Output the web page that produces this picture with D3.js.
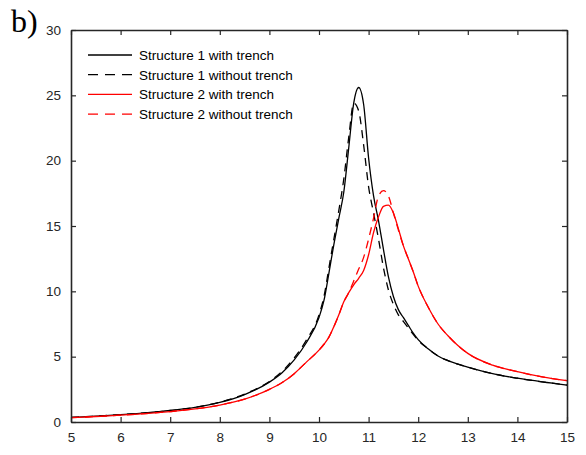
<!DOCTYPE html>
<html>
<head>
<meta charset="utf-8">
<script src="https://cdn.jsdelivr.net/npm/d3@7"></script>
<style>
  body { margin: 0; background: #fff; }
  svg text { font-family: "Liberation Sans", Arial, sans-serif; }
</style>
</head>
<body>
<svg id="chart" width="586" height="455"></svg>
<script>
// frequency grid shared by all four curves
const freq = [5, 5.5, 6, 6.5, 7, 7.5, 8, 8.5, 9, 9.25, 9.5, 9.75, 10, 10.1, 10.2, 10.3, 10.4, 10.5, 10.6, 10.7, 10.8, 10.9, 11, 11.1, 11.2, 11.3, 11.4, 11.5, 11.6, 11.7, 11.8, 11.9, 12, 12.2, 12.4, 12.6, 12.8, 13, 13.5, 14, 14.5, 15];

const s1Trench   = [0.35, 0.45, 0.56, 0.70, 0.88, 1.12, 1.50, 2.10, 3.05, 3.75, 4.75, 6.1, 8.0, 9.3, 11.4, 13.6, 15.6, 17.6, 21.0, 24.4, 25.6, 24.3, 20.2, 17.3, 15.4, 13.2, 11.1, 9.6, 8.6, 8.0, 7.4, 6.8, 6.3, 5.6, 5.05, 4.7, 4.43, 4.2, 3.7, 3.35, 3.07, 2.83];
const s1NoTrench = [0.35, 0.45, 0.56, 0.70, 0.88, 1.12, 1.52, 2.14, 3.1, 3.85, 4.9, 6.3, 8.2, 9.6, 11.8, 14.0, 16.2, 18.6, 21.8, 24.4, 23.8, 21.2, 18.0, 16.0, 14.0, 11.8, 10.1, 9.0, 8.2, 7.7, 7.2, 6.7, 6.25, 5.6, 5.05, 4.7, 4.43, 4.2, 3.7, 3.35, 3.07, 2.83];
const s2Trench   = [0.33, 0.42, 0.52, 0.64, 0.80, 1.0, 1.3, 1.75, 2.5, 3.0, 3.7, 4.6, 5.5, 5.95, 6.5, 7.3, 8.2, 9.2, 9.9, 10.5, 11.0, 11.6, 12.8, 14.5, 15.7, 16.5, 16.6, 16.0, 14.8, 13.5, 12.5, 11.5, 10.4, 8.8, 7.5, 6.6, 5.85, 5.25, 4.35, 3.85, 3.45, 3.16];
const s2NoTrench = [0.33, 0.42, 0.52, 0.64, 0.80, 1.0, 1.3, 1.75, 2.5, 3.0, 3.7, 4.6, 5.5, 5.95, 6.5, 7.3, 8.2, 9.2, 9.9, 10.8, 11.7, 12.6, 14.0, 15.6, 17.3, 17.7, 17.3, 16.0, 14.7, 13.5, 12.5, 11.5, 10.4, 8.8, 7.5, 6.6, 5.85, 5.25, 4.35, 3.85, 3.45, 3.16];

const seriesNames = ["Structure 1 with trench", "Structure 1 without trench", "Structure 2 with trench", "Structure 2 without trench"];
const seriesColors = ["#000000", "#000000", "#ff0000", "#ff0000"];
const seriesDashed = [false, true, false, true];
const seriesValues = [s1Trench, s1NoTrench, s2Trench, s2NoTrench];

const xTicks = [5, 6, 7, 8, 9, 10, 11, 12, 13, 14, 15];
const yTicks = [0, 5, 10, 15, 20, 25, 30];

const svg = d3.select("#chart");
const plot = {left: 71, right: 567, top: 30, bottom: 422};
const axisColor = "#262626";

const x = d3.scaleLinear().domain([5, 15]).range([plot.left, plot.right]);
const y = d3.scaleLinear().domain([0, 30]).range([plot.bottom, plot.top]);

// panel label
svg.append("text")
  .attr("x", 11).attr("y", 32)
  .style("font-family", "'Liberation Serif', 'Times New Roman', serif")
  .style("font-size", "32px")
  .attr("fill", "#000")
  .text("b)");

// curves, drawn first so the axes sit on top
const line = d3.line()
  .x((d, i) => x(freq[i]))
  .y(d => y(d))
  .curve(d3.curveMonotoneX);

seriesValues.forEach((vals, k) => {
  svg.append("path")
    .attr("d", line(vals))
    .attr("fill", "none")
    .attr("stroke", seriesColors[k])
    .attr("stroke-width", 1.3)
    .attr("stroke-dasharray", seriesDashed[k] ? "8,6" : null);
});

// axes: ticks point inward like the MATLAB box
function styleAxis(g) {
  g.selectAll("path.domain").attr("stroke", axisColor).attr("stroke-width", 1.6);
  g.selectAll(".tick line").attr("stroke", axisColor).attr("stroke-width", 1.2);
  g.selectAll(".tick text").attr("fill", axisColor).style("font-size", "13.5px")
    .style("font-family", "'Liberation Sans', Arial, sans-serif");
}

svg.append("g")
  .attr("transform", `translate(0,${plot.bottom})`)
  .call(d3.axisBottom(x).tickValues(xTicks).tickSizeInner(-5).tickSizeOuter(0).tickPadding(10))
  .call(styleAxis);

svg.append("g")
  .attr("transform", `translate(0,${plot.top})`)
  .call(d3.axisTop(x).tickValues(xTicks).tickSizeInner(-5).tickSizeOuter(0).tickFormat(""))
  .call(styleAxis);

svg.append("g")
  .attr("transform", `translate(${plot.left},0)`)
  .call(d3.axisLeft(y).tickValues(yTicks).tickSizeInner(-5).tickSizeOuter(0).tickPadding(10))
  .call(styleAxis);

svg.append("g")
  .attr("transform", `translate(${plot.right},0)`)
  .call(d3.axisRight(y).tickValues(yTicks).tickSizeInner(-5).tickSizeOuter(0).tickFormat(""))
  .call(styleAxis);

// legend, no box
const legend = svg.append("g");
seriesNames.forEach((name, k) => {
  const ly = 55 + k * 19.7;
  legend.append("line")
    .attr("x1", 88).attr("x2", 132)
    .attr("y1", ly).attr("y2", ly)
    .attr("stroke", seriesColors[k])
    .attr("stroke-width", 1.3)
    .attr("stroke-dasharray", seriesDashed[k] ? "10,7" : null);
  legend.append("text")
    .attr("x", 139).attr("y", ly + 4.8)
    .style("font-size", "13.5px")
    .attr("fill", "#000")
    .text(name);
});
</script>
</body>
</html>
